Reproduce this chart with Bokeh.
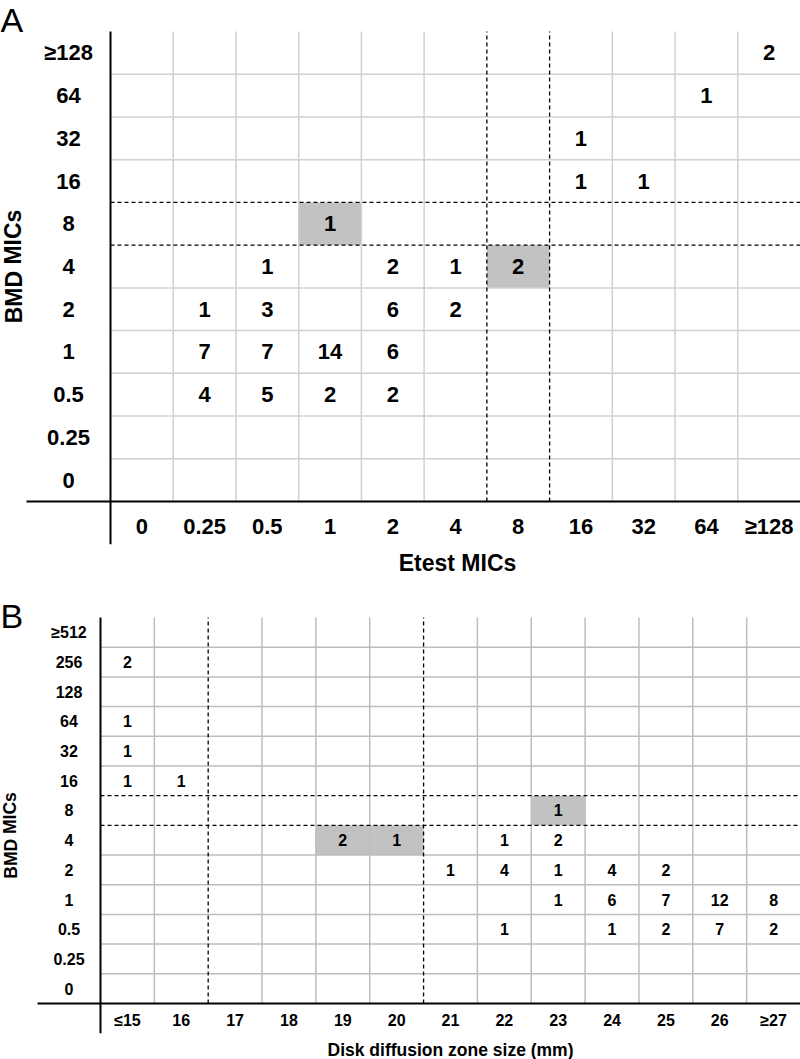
from bokeh.plotting import figure
from bokeh.layouts import column
from bokeh.models import Range1d, ColumnDataSource
from bokeh.core.properties import value
from bokeh.embed import file_html
from bokeh.resources import INLINE

# ---------------- Panel A data: BMD MICs vs Etest MICs ----------------
a_etest_labels = ["0", "0.25", "0.5", "1", "2", "4", "8", "16", "32", "64", "≥128"]
a_bmd_labels = ["0", "0.25", "0.5", "1", "2", "4", "8", "16", "32", "64", "≥128"]
a_cell_etest = ["≥128", "64", "16", "16", "32", "1",
                "0.5", "2", "4", "8",
                "0.25", "0.5", "2", "4",
                "0.25", "0.5", "1", "2",
                "0.25", "0.5", "1", "2"]
a_cell_bmd = ["≥128", "64", "32", "16", "16", "8",
              "4", "4", "4", "4",
              "2", "2", "2", "2",
              "1", "1", "1", "1",
              "0.5", "0.5", "0.5", "0.5"]
a_cell_count = [2, 1, 1, 1, 1, 1,
                1, 2, 1, 2,
                1, 3, 6, 2,
                7, 7, 14, 6,
                4, 5, 2, 2]
a_shade_etest = ["1", "8"]
a_shade_bmd = ["8", "4"]

# ---------------- Panel B data: BMD MICs vs disk zone size ----------------
b_zone_labels = ["≤15", "16", "17", "18", "19", "20", "21", "22", "23", "24", "25", "26", "≥27"]
b_bmd_labels = ["0", "0.25", "0.5", "1", "2", "4", "8", "16", "32", "64", "128", "256", "≥512"]
b_cell_zone = ["≤15", "≤15", "≤15", "≤15", "16", "23",
               "19", "20", "22", "23",
               "21", "22", "23", "24", "25",
               "23", "24", "25", "26", "≥27",
               "22", "24", "25", "26", "≥27"]
b_cell_bmd = ["256", "64", "32", "16", "16", "8",
              "4", "4", "4", "4",
              "2", "2", "2", "2", "2",
              "1", "1", "1", "1", "1",
              "0.5", "0.5", "0.5", "0.5", "0.5"]
b_cell_count = [2, 1, 1, 1, 1, 1,
                2, 1, 1, 2,
                1, 4, 1, 4, 2,
                1, 6, 7, 12, 8,
                1, 1, 2, 7, 2]
b_shade_zone = ["19", "20", "23"]
b_shade_bmd = ["4", "4", "8"]
b_break_after_zone = ["16", "20"]  # dashed vertical lines right of these columns

FONT = value("Liberation Sans")


def make_panel(xlabels, ylabels, cx, cy, cn, sx, sy, vcuts, hcuts,
               letter, xtitle, ytitle, g):
    W, H = g["width"], g["height"]
    nx, ny = len(xlabels), len(ylabels)
    left, top = g["left"], g["top"]
    cw = (W - left) / nx
    rh = g["row_h"]
    bottom = top + ny * rh

    def dx(px):
        return (px - left) / cw

    def dy(py):
        return (bottom - py) / rh

    p = figure(width=W, height=H, x_range=Range1d(dx(0), dx(W)),
               y_range=Range1d(dy(H), dy(0)), x_axis_type=None, y_axis_type=None,
               toolbar_location=None, output_backend="svg", min_border=0,
               outline_line_color=None, background_fill_color="white",
               border_fill_color="white")
    p.grid.visible = False

    xi = {lab: i for i, lab in enumerate(xlabels)}
    yi = {lab: i for i, lab in enumerate(ylabels)}

    # shaded cells
    p.quad(left=[xi[a] for a in sx], right=[xi[a] + 1 for a in sx],
           bottom=[yi[b] for b in sy], top=[yi[b] + 1 for b in sy],
           fill_color="#c2c2c2", line_color=None)

    # grid lines
    gx = [i for i in range(1, nx) if i not in vcuts]
    gy = [j for j in range(1, ny) if j not in hcuts]
    p.segment(x0=gx, x1=gx, y0=[0] * len(gx), y1=[ny] * len(gx),
              line_color=g["grid_color"], line_width=1.5)
    p.segment(x0=[0] * len(gy), x1=[nx] * len(gy), y0=gy, y1=gy,
              line_color=g["grid_color"], line_width=1.5)

    # dashed breakpoint lines
    p.segment(x0=vcuts, x1=vcuts, y0=[0] * len(vcuts), y1=[ny] * len(vcuts),
              line_color="black", line_width=1.3, line_dash="4 3")
    p.segment(x0=[0] * len(hcuts), x1=[nx] * len(hcuts), y0=hcuts, y1=hcuts,
              line_color="black", line_width=1.3, line_dash="4 3")

    # axis cross lines
    p.segment(x0=[dx(g["xline_start"]), 0], x1=[nx, 0], y0=[0, -1], y1=[0, ny],
              line_color="black", line_width=2)

    # cell counts
    src = ColumnDataSource(dict(x=[xi[a] + 0.5 for a in cx], y=[yi[b] + 0.5 for b in cy],
                                t=[str(n) for n in cn]))
    p.text(x="x", y="y", text="t", source=src, text_align="center",
           text_baseline="middle", text_font=FONT, text_font_style="bold",
           text_font_size=g["num_size"], text_color="black")

    # tick labels
    p.text(x=[i + 0.5 for i in range(nx)], y=[dy(bottom + g["xlab_off"])] * nx,
           text=xlabels, text_align="center", text_baseline="middle", text_font=FONT,
           text_font_style="bold", text_font_size=g["tick_size"], text_color="black")
    p.text(x=[dx(g["ylab_x"])] * ny, y=[j + 0.5 for j in range(ny)],
           text=ylabels, text_align="center", text_baseline="middle", text_font=FONT,
           text_font_style="bold", text_font_size=g["tick_size"], text_color="black")

    # axis titles
    p.text(x=[dx(g["xtitle"][0])], y=[dy(g["xtitle"][1])], text=[xtitle],
           text_align="center", text_baseline="middle", text_font=FONT,
           text_font_style="bold", text_font_size=g["title_size"], text_color="black")
    p.text(x=[dx(g["ytitle"][0])], y=[dy(g["ytitle"][1])], text=[ytitle], angle=1.5708,
           text_align="center", text_baseline="middle", text_font=FONT,
           text_font_style="bold", text_font_size=g["title_size"], text_color="black")

    # panel letter
    p.text(x=[dx(g["letter"][0])], y=[dy(g["letter"][1])], text=[letter],
           text_align="left", text_baseline="top", text_font=FONT,
           text_font_size="34px", text_color="black")
    return p


geom_a = dict(width=800, height=586, left=110, top=31, row_h=42.73,
              grid_color="#d0d0d0", xline_start=26, xlab_off=25, ylab_x=68,
              xtitle=(457, 562), ytitle=(13, 266), letter=(0, 0),
              num_size="22px", tick_size="22px", title_size="23px")
geom_b = dict(width=800, height=473, left=100, top=31, row_h=29.69,
              grid_color="#bdbdbd", xline_start=37, xlab_off=17, ylab_x=68.5,
              xtitle=(450, 463), ytitle=(10, 249), letter=(0, 10),
              num_size="16px", tick_size="16px", title_size="17.5px")

a_vcuts = [a_etest_labels.index("8"), a_etest_labels.index("8") + 1]
a_hcuts = [a_bmd_labels.index("8"), a_bmd_labels.index("8") + 1]
b_vcuts = [b_zone_labels.index(z) + 1 for z in b_break_after_zone]
b_hcuts = [b_bmd_labels.index("8"), b_bmd_labels.index("8") + 1]

pa = make_panel(a_etest_labels, a_bmd_labels, a_cell_etest, a_cell_bmd, a_cell_count,
                a_shade_etest, a_shade_bmd, a_vcuts, a_hcuts,
                "A", "Etest MICs", "BMD MICs", geom_a)
pb = make_panel(b_zone_labels, b_bmd_labels, b_cell_zone, b_cell_bmd, b_cell_count,
                b_shade_zone, b_shade_bmd, b_vcuts, b_hcuts,
                "B", "Disk diffusion zone size (mm)", "BMD MICs", geom_b)

layout = column(pa, pb, spacing=0)
open("out.html", "w").write(file_html(layout, INLINE))
